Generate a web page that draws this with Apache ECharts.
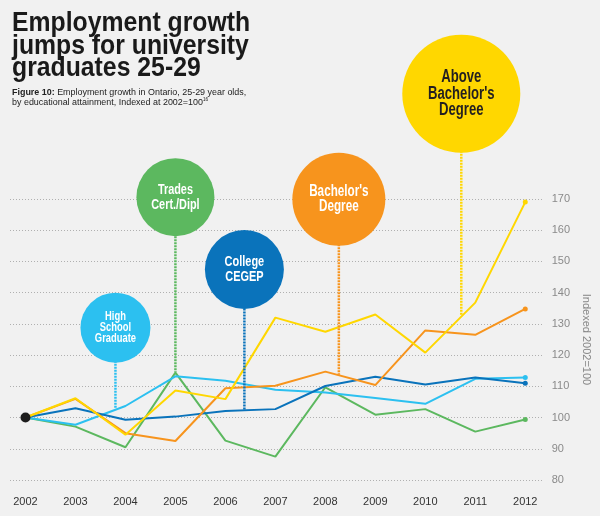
<!DOCTYPE html>
<html>
<head>
<meta charset="utf-8">
<script src="https://cdn.jsdelivr.net/npm/echarts@6/dist/echarts.min.js"></script>
<style>
html,body{margin:0;padding:0;background:#f1f1f1;}
#chart{width:600px;height:516px;}
</style>
</head>
<body>
<div id="chart"></div>
<script>
const years = [2002, 2003, 2004, 2005, 2006, 2007, 2008, 2009, 2010, 2011, 2012];
const highSchool = [100, 97.7, 103.7, 113.2, 111.8, 108.9, 108.0, 106.3, 104.4, 112.4, 112.8];
const college = [100, 103.0, 99.3, 100.3, 102.1, 102.7, 110.1, 113.1, 110.6, 112.8, 111.0];
const trades = [100, 97.1, 90.5, 114.4, 92.6, 87.5, 109.7, 100.9, 102.7, 95.5, 99.4];
const bachelors = [100, 106.0, 95.0, 92.5, 109.4, 110.2, 114.7, 110.4, 127.9, 126.5, 134.8];
const aboveBachelors = [100, 106.2, 94.5, 108.7, 105.9, 132.0, 127.5, 133.0, 120.8, 136.8, 169.0];
const yTicks = [80, 90, 100, 110, 120, 130, 140, 150, 160, 170];

const seriesNames = ['Trades Cert./Dipl', 'High School Graduate', 'College CEGEP', "Bachelor's Degree", "Above Bachelor's Degree"];
const seriesValues = [trades, highSchool, college, bachelors, aboveBachelors];
const colors = ['#5cb85f', '#2cc0f0', '#0a73bb', '#f7941d', '#ffd700'];

// bubble annotations: [label text, x (year), y (index), diameter, connector end, text colour, font size, line height, colour index]
const bubbles = [
  ['High\nSchool\nGraduate', 2003.8, 128.8, 70, 103.1, '#ffffff', 12.5, 10.8, 1],
  ['Trades\nCert./Dipl', 2005.0, 170.6, 78, 114.6, '#ffffff', 14.5, 15, 0],
  ['College\nCEGEP', 2006.38, 147.4, 79, 102.5, '#ffffff', 14.6, 14.7, 2],
  ["Bachelor's\nDegree", 2008.27, 169.9, 93, 113.7, '#ffffff', 15.6, 15, 3],
  ["Above\nBachelor's\nDegree", 2010.72, 203.7, 118, 132.9, '#231f20', 17.5, 16.6, 4]
];

const font = "Liberation Sans, Arial, Helvetica, sans-serif";

const series = [];
seriesValues.forEach((vals, i) => {
  series.push({
    name: seriesNames[i],
    type: 'line',
    data: years.map((y, k) => [y, vals[k]]),
    lineStyle: { color: colors[i], width: 2 },
    itemStyle: { color: colors[i] },
    symbol: 'circle',
    showAllSymbol: true,
    symbolSize: (v, p) => (p.dataIndex === years.length - 1 ? 5 : 0),
    z: 3 + i,
    silent: true
  });
});

bubbles.forEach((b) => {
  const c = colors[b[8]];
  series.push({
    type: 'line',
    data: [[b[1], b[2]], [b[1], b[4]]],
    symbol: 'none',
    lineStyle: { color: c, width: 2.5, type: [2, 1] },
    clip: false,
    z: 10,
    silent: true
  });
});

series.push({
  type: 'scatter',
  data: bubbles.map((b) => ({
    value: [b[1], b[2]],
    symbolSize: b[3],
    itemStyle: { color: colors[b[8]], opacity: 1 }
  })),
  clip: false,
  z: 20,
  silent: true
});

series.push({
  type: 'scatter',
  data: [[years[0], highSchool[0]]],
  symbolSize: 10,
  itemStyle: { color: '#1c1c1c', opacity: 1 },
  z: 30,
  silent: true
});

const option = {
  backgroundColor: '#f1f1f1',
  animation: false,
  grid: { left: 10, right: 55, top: 199, bottom: 36, containLabel: false },
  xAxis: {
    type: 'value',
    min: 2001.69,
    max: 2012.35,
    axisLine: { show: false },
    axisTick: { show: false },
    splitLine: { show: false },
    axisLabel: {
      customValues: years,
      formatter: (v) => String(v),
      color: '#333',
      fontFamily: font,
      fontSize: 11,
      margin: 16
    }
  },
  yAxis: {
    type: 'value',
    position: 'right',
    min: 80,
    max: 170,
    interval: 10,
    axisLine: { show: false },
    axisTick: { show: false },
    axisLabel: { color: '#8a8a8a', fontFamily: font, fontSize: 11, margin: 9, customValues: yTicks },
    splitLine: { show: true, lineStyle: { color: '#b0b0b0', width: 1, type: [1, 2] } },
    name: 'Indexed 2002=100',
    nameLocation: 'middle',
    nameRotate: -90,
    nameGap: 38,
    nameTextStyle: { color: '#888', fontFamily: font, fontSize: 11 }
  },
  series: series
};

const chart = echarts.init(document.getElementById('chart'), null, { renderer: 'canvas' });
chart.setOption(option);

const graphics = [
  {
    type: 'text',
    x: 12, y: 12,
    scaleX: 0.885,
    z: 100,
    style: {
      text: 'Employment growth\njumps for university\ngraduates 25-29',
      font: 'bold 28px ' + font,
      lineHeight: 22.7,
      fill: '#1a1a1a',
      textAlign: 'left',
      textVerticalAlign: 'top'
    }
  },
  {
    type: 'text',
    x: 12, y: 87.5,
    scaleX: 0.94,
    z: 100,
    style: {
      text: '{b|Figure 10:} Employment growth in Ontario, 25-29 year olds,\nby educational attainment, Indexed at 2002=100{sup|16}',
      font: '9.5px ' + font,
      fontSize: 9.5,
      fontFamily: font,
      lineHeight: 10,
      fill: '#222',
      textAlign: 'left',
      textVerticalAlign: 'top',
      rich: {
        b: { fontFamily: font, fontWeight: 'bold', fontSize: 9.5, lineHeight: 10, fill: '#222' },
        sup: { fontFamily: font, fontSize: 5, lineHeight: 10, fill: '#222', verticalAlign: 'top' }
      }
    }
  }
];

bubbles.forEach((b) => {
  const p = chart.convertToPixel({ gridIndex: 0 }, [b[1], b[2]]);
  graphics.push({
    type: 'text',
    x: p[0], y: p[1],
    scaleX: 0.75,
    z: 100,
    style: {
      text: b[0],
      font: 'bold ' + b[6] + 'px ' + font,
      lineHeight: b[7],
      fill: b[5],
      textAlign: 'center',
      textVerticalAlign: 'middle'
    }
  });
});

chart.setOption({ graphic: graphics });
</script>
</body>
</html>
